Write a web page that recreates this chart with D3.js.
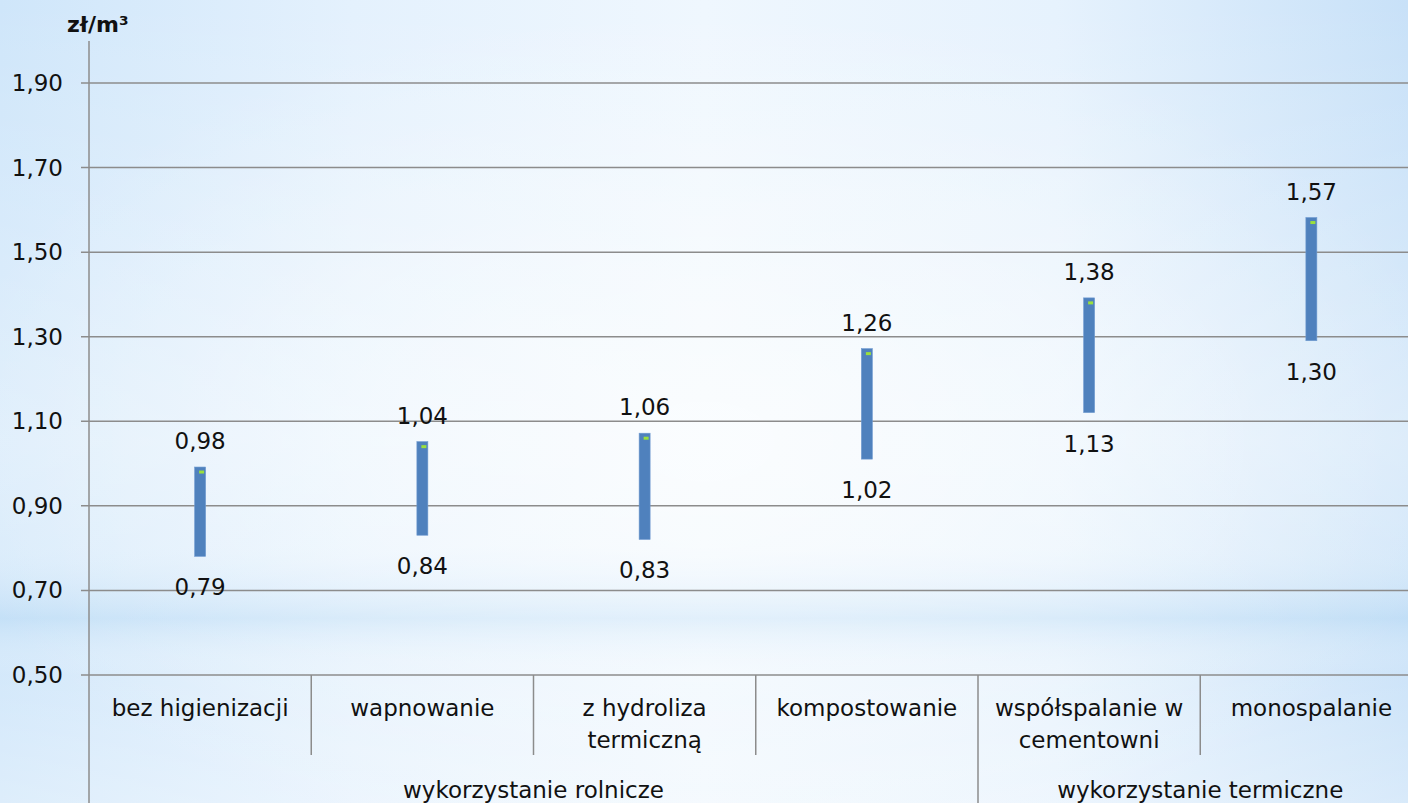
<!DOCTYPE html>
<html><head><meta charset="utf-8">
<script src="https://cdn.jsdelivr.net/npm/d3@7"></script>
<style>html,body{margin:0;padding:0;overflow:hidden;background:#e4f1fc}</style>
</head><body>
<script>
const categories = ["bez higienizacji","wapnowanie","z hydroliza\ntermiczną","kompostowanie","współspalanie w\ncementowni","monospalanie"];
const groups = [{name:"wykorzystanie rolnicze", from:0, to:4},{name:"wykorzystanie termiczne", from:4, to:6}];
const highValues = [0.98,1.04,1.06,1.26,1.38,1.57];
const lowValues = [0.79,0.84,0.83,1.02,1.13,1.30];
const yTicks = [0.50,0.70,0.90,1.10,1.30,1.50,1.70,1.90];
const unitLabel = "zł/m³";

(function(){
const W=1408,H=803;
const fmt = v => d3.format(".2f")(v).replace(".",",");
const svg = d3.select("body").append("svg").attr("width",W).attr("height",H);
const defs = svg.append("defs");
const g1 = defs.append("linearGradient").attr("id","bg1").attr("x1","0").attr("y1","0").attr("x2","1").attr("y2","0");
[[0,"#cfe6fa"],[0.25,"#e4f1fd"],[0.5,"#eff7fe"],[0.75,"#e6f2fd"],[1,"#c8e1f8"]].forEach(s=>g1.append("stop").attr("offset",s[0]).attr("stop-color",s[1]));
const g2 = defs.append("linearGradient").attr("id","bg2").attr("x1","0").attr("y1","0").attr("x2","0").attr("y2","1");
[[0,"#ffffff",0],[0.55,"#ffffff",0.35],[0.68,"#ffffff",0.25],[0.77,"#bcdcf5",0.55],[0.84,"#ffffff",0.1],[1,"#ffffff",0.3]].forEach(s=>g2.append("stop").attr("offset",s[0]).attr("stop-color",s[1]).attr("stop-opacity",s[2]));
const g3 = defs.append("radialGradient").attr("id","bg3").attr("cx","0.5").attr("cy","0.55").attr("r","0.55");
[[0,"#ffffff",0.55],[1,"#ffffff",0]].forEach(s=>g3.append("stop").attr("offset",s[0]).attr("stop-color",s[1]).attr("stop-opacity",s[2]));
svg.append("rect").attr("width",W).attr("height",H).attr("fill","url(#bg1)");
svg.append("rect").attr("width",W).attr("height",H).attr("fill","url(#bg2)");
svg.append("rect").attr("width",W).attr("height",H).attr("fill","url(#bg3)");

const pLeft=89, pRight=1422.5, pTop=83, pBottom=675;
const x = d3.scaleBand().domain(d3.range(categories.length)).range([pLeft,pRight]).padding(0);
const y = d3.scaleLinear().domain([0.5,1.9]).range([pBottom,pTop]);
const font = "'DejaVu Sans', sans-serif";
const fs = 23;
const grid="#8c8c8c";

svg.append("g").selectAll("line").data(yTicks).join("line")
  .attr("x1",pLeft-8).attr("x2",W).attr("y1",d=>y(d)).attr("y2",d=>y(d))
  .attr("stroke",grid).attr("stroke-width",1.5);
svg.append("g").selectAll("text").data(yTicks).join("text")
  .attr("x",63).attr("y",d=>y(d)).attr("dy","0.35em").attr("text-anchor","end")
  .attr("font-family",font).attr("font-size",fs).attr("fill","#111").text(fmt);
svg.append("line").attr("x1",pLeft).attr("x2",pLeft).attr("y1",41).attr("y2",H).attr("stroke",grid).attr("stroke-width",1.5);
svg.append("text").attr("x",67).attr("y",32).attr("font-family",font).attr("font-size",22).attr("font-weight","bold").attr("fill","#111").text(unitLabel);

const boundaries = d3.range(1,categories.length);
svg.append("g").selectAll("line").data(boundaries).join("line")
  .attr("x1",i=>x(i)).attr("x2",i=>x(i)).attr("y1",pBottom).attr("y2",i=>groups.some(g=>g.from===i)?H:755)
  .attr("stroke",grid).attr("stroke-width",1.5);
const cl = svg.append("g").selectAll("text").data(categories).join("text")
  .attr("text-anchor","middle").attr("font-family",font).attr("font-size",fs).attr("fill","#111");
cl.each(function(d,i){
  d.split("\n").forEach((t,k)=>d3.select(this).append("tspan").attr("x",x(i)+x.bandwidth()/2).attr("y",716+k*32).text(t));
});
svg.append("g").selectAll("text").data(groups).join("text")
  .attr("x",g=>(x(g.from)+x(g.to-1)+x.bandwidth())/2).attr("y",798).attr("text-anchor","middle")
  .attr("font-family",font).attr("font-size",fs).attr("fill","#111").text(g=>g.name);

const bw=11;
const data = categories.map((c,i)=>({i,hi:highValues[i],lo:lowValues[i]}));
const cx = d=>x(d.i)+x.bandwidth()/2;
svg.append("g").selectAll("rect").data(data).join("rect")
  .attr("x",d=>cx(d)-bw/2).attr("width",bw)
  .attr("y",d=>y(d.hi)-5).attr("height",d=>y(d.lo)-y(d.hi)+9)
  .attr("fill","#4f81bd").attr("stroke","#6f9ad0").attr("stroke-width",0.6);
svg.append("g").selectAll("rect").data(data).join("rect")
  .attr("x",d=>cx(d)-1).attr("width",5).attr("y",d=>y(d.hi)-1.5).attr("height",3)
  .attr("fill","#9be03c");
svg.append("g").selectAll("text").data(data).join("text")
  .attr("x",cx).attr("y",d=>y(d.hi)-23).attr("text-anchor","middle")
  .attr("font-family",font).attr("font-size",fs).attr("fill","#111").text(d=>fmt(d.hi));
svg.append("g").selectAll("text").data(data).join("text")
  .attr("x",cx).attr("y",d=>y(d.lo)+43).attr("text-anchor","middle")
  .attr("font-family",font).attr("font-size",fs).attr("fill","#111").text(d=>fmt(d.lo));
})();
</script>
</body></html>
